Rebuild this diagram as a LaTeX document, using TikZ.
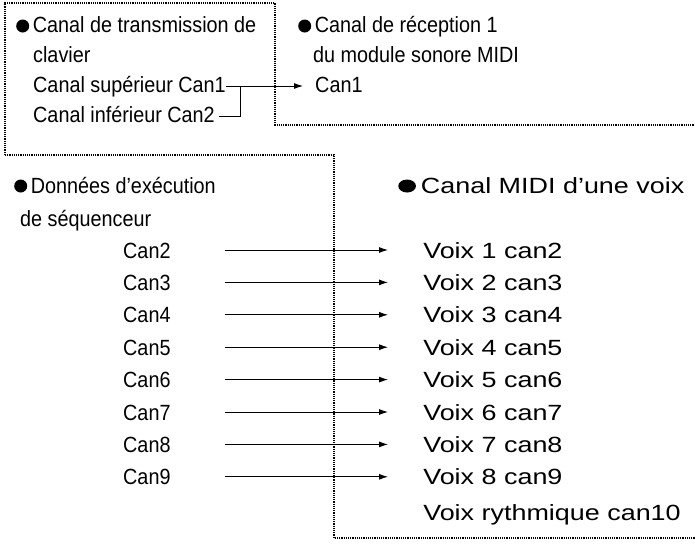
\documentclass[tikz,border=0pt]{standalone}
\usepackage{fontspec}
\setmainfont{Liberation Sans}[FakeStretch=0.9]
\usetikzlibrary{arrows.meta}
\newcommand{\puce}{\tikz[baseline=-0.6ex]\fill (0,0) circle (6.5pt);\,}

\tikzset{
    txt/.style={anchor=base west, inner sep=0pt, font=\fontsize{22}{26}\selectfont},
    large/.style={txt, xscale=1.36, transform shape},
    cadre/.style={densely dotted, line width=1.2pt},
    fl/.style={line width=0.9pt, -{Latex[length=9pt,width=6pt]}}
}

\begin{document}
\begin{tikzpicture}[x=1pt,y=-1pt]
    \useasboundingbox (0,0) rectangle (695,548);
    % cadres
    \draw[cadre] (5,155) -- (5,3) -- (275,3) -- (275,125) -- (695,125);
    \draw[cadre] (5,155) -- (334,155) -- (334,538) -- (695,538);
    % clavier
    \node[txt] (t1) at (16,33) {\puce Canal de transmission de};
    \node[txt] (t2) at (33,63) {clavier};
    \node[txt] (sup) at (33,93) {Canal supérieur Can1};
    \node[txt] (inf) at (33,123) {Canal inférieur Can2};
    % module
    \node[txt] (r1) at (298,33) {\puce Canal de réception 1};
    \node[txt] (r2) at (313,63) {du module sonore MIDI};
    \node[txt] (rc) at (315,93) {Can1};
    \coordinate (b) at (240,86);
    \draw[fl] (sup.east |- b) -- ([xshift=-12pt]rc.west |- b);
    \draw[line width=0.9pt] (b) -- (240,116) -- ([xshift=4pt]inf.east |- 0,116);
    % sequenceur
    \node[txt] (s1) at (14,193) {\puce Données d'exécution};
    \node[txt] (s2) at (20,226) {de séquenceur};
    \node[large] (v0) at (398,193) {\puce Canal MIDI d'une voix};
    \foreach \i [evaluate=\i as \y using 250+(\i-1)*32.4, evaluate=\i as \c using int(\i+1)] in {1,...,8} {
        \node[txt] (c\i) at (123,\y+8) {Can\c};
        \node[large] (v\i) at (423,\y+8) {Voix \i\ can\c};
        \draw[fl] (225,\y) -- (388,\y);
    }
    \node[large] (vr) at (423,520) {Voix rythmique can10};
\end{tikzpicture}
\end{document}
